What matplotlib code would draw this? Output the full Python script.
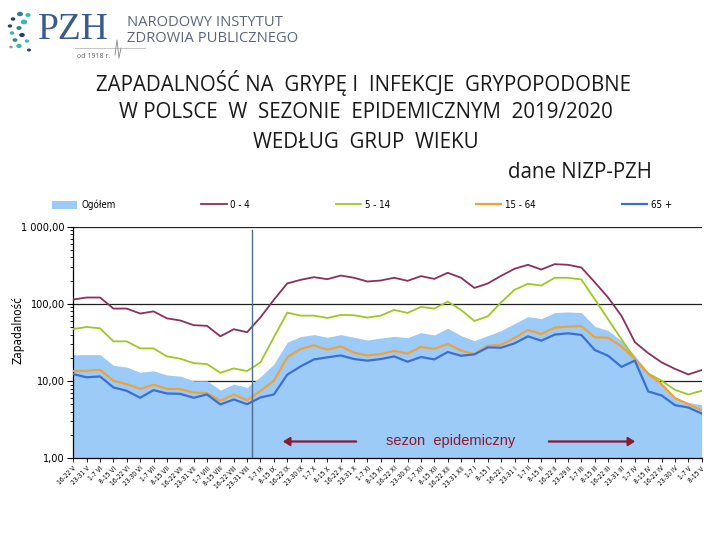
import matplotlib
matplotlib.use("Agg")
import matplotlib.pyplot as plt
import numpy as np
from matplotlib.patches import Circle, FancyArrowPatch
from matplotlib.lines import Line2D
from matplotlib.ticker import NullFormatter, LogLocator
from matplotlib.font_manager import FontProperties

weeks = ["16-22 V","23-31 V","1-7 VI","8-15 VI","16-22 VI","23-30 VI","1-7 VII","8-15 VII",
         "16-22 VII","23-31 VII","1-7 VIII","8-15 VIII","16-22 VIII","23-31 VIII","1-7 IX","8-15 IX",
         "16-22 IX","23-30 IX","1-7 X","8-15 X","16-22 X","23-31 X","1-7 XI","8-15 XI",
         "16-22 XI","23-30 XI","1-7 XII","8-15 XII","16-22 XII","23-31 XII","1-7 I","8-15 I",
         "16-22 I","23-31 I","1-7 II","8-15 II","16-22 II","23-29 II","1-7 III","8-15 III",
         "16-22 III","23-31 III","1-7 IV","8-15 IV","16-22 IV","23-30 IV","1-7 V","8-15 V"]

ogolem = [22.0,22.0,22.0,16.0,15.2,13.0,13.6,12.0,11.6,10.1,10.1,7.64,
          9.14,8.28,11.4,16.6,31.8,37.7,40.0,36.9,40.0,36.9,34.0,36.1,
          38.0,36.5,42.5,39.6,48.3,38.8,33.4,38.8,45.1,55.6,68.4,64.5,
          77.1,78.7,77.1,51.3,45.1,33.4,21.3,13.0,9.14,6.14,5.28,4.93]

age_0_4 = [114,121,121,87,87,75,80,65,61,53,52,38,
           47,43,67,113,184,205,222,209,233,218,195,201,
           218,199,229,211,253,218,161,184,231,285,321,279,
           327,321,296,191,121,70,32,23,17.5,14.4,12.2,13.9]

age_5_14 = [47.3,50.2,48.3,32.7,32.7,26.5,26.5,20.9,19.5,17.1,16.6,12.8,
            14.6,13.5,17.5,36.9,77.1,70.5,70.5,65.8,71.9,71.3,66.5,70.5,
            83.6,76.4,91.4,87.0,107,83.6,60.1,69.1,105,152,182,173,
            218,218,207,115,63.2,34.8,19.5,12.6,10.1,7.7,6.7,7.5]

age_15_64 = [13.5,13.6,14.0,10.1,9.14,7.94,8.96,7.94,7.87,7.12,6.98,5.56,
             6.71,5.67,7.48,10.1,20.3,26.1,29.1,25.5,28.2,23.3,21.5,22.4,
             24.6,22.7,27.7,26.1,30.3,24.8,22.4,28.7,29.6,36.2,45.9,40.7,
             49.3,50.8,51.3,36.9,36.5,28.2,19.3,12.3,9.14,6.01,5.02,4.20]

age_65 = [12.3,11.2,11.5,8.28,7.48,6.08,7.64,6.92,6.84,6.08,6.71,4.98,
          5.78,5.02,6.14,6.71,12.1,15.5,19.1,20.3,21.5,19.3,18.4,19.3,
          20.9,17.8,20.5,19.1,23.8,21.3,22.2,27.3,27.1,30.8,38.0,33.4,
          40.0,41.6,39.6,25.3,21.3,15.3,18.4,7.34,6.52,4.88,4.55,3.80]

y_ticks = [1, 10, 100, 1000]
y_ticklabels = ["1,00", "10,00", "100,00", "1 000,00"]

def narrow(size):
    return FontProperties(family=["DejaVu Sans"], stretch="condensed", size=size)

TITLE_FONT = ["Open Sans", "DejaVu Sans"]

fig = plt.figure(figsize=(7.2, 5.4), dpi=100)
W, H = 720.0, 540.0

def fx(px):
    return px / W

def fy(py):
    return 1 - py / H

ax = fig.add_axes([fx(73.3), fy(458.3), fx(701.7) - fx(73.3), fy(226.7) - fy(458.3)])
x = np.arange(len(weeks))

ax.fill_between(x, 1, ogolem, color="#9ccbf7", lw=0, zorder=1, label="Ogółem")
ax.plot(x, age_0_4, color="#8b2f5c", lw=1.3, zorder=3, label="0 - 4")
ax.plot(x, age_5_14, color="#9fc724", lw=1.3, zorder=3, label="5 - 14")
ax.plot(x, age_15_64, color="#eea23a", lw=1.6, zorder=3, label="15 - 64")
ax.plot(x, age_65, color="#3a6fd8", lw=1.6, zorder=3, label="65 +")

ax.set_yscale("log")
ax.set_ylim(1, 1000)
ax.set_xlim(0, len(weeks) - 1)
ax.set_yticks(y_ticks)
ax.set_yticklabels(y_ticklabels, fontproperties=narrow(7.8))
ax.yaxis.set_minor_locator(LogLocator(base=10, subs=np.arange(2, 10)))
ax.yaxis.set_minor_formatter(NullFormatter())
ax.tick_params(axis="y", which="major", length=4, width=0.8, direction="out", pad=2)
ax.tick_params(axis="y", which="minor", length=2, width=0.6, direction="out")
ax.set_xticks(x)
ax.set_xticklabels(weeks, rotation=45, ha="right", rotation_mode="anchor",
                   fontproperties=narrow(4.8))
ax.tick_params(axis="x", length=3, width=0.6, direction="out", pad=2)

ax.set_axisbelow(True)
ax.grid(axis="y", which="major", color="#202020", lw=0.9)
ax.grid(axis="x", visible=False)
for s in ["top", "right"]:
    ax.spines[s].set_visible(False)
ax.spines["left"].set_linewidth(0.9)
ax.spines["bottom"].set_linewidth(0.9)

fig.text(fx(18), fy(330), "Zapadalność", rotation=90, ha="center", va="center",
         fontproperties=narrow(8.5))

# vertical marker line (start of epidemic season)
ax.axvline(13.4, ymin=0, ymax=0.986, color="#4f6d8c", lw=1.0, zorder=4)

# legend
fig.legend(loc="lower left", bbox_to_anchor=(fx(48), fy(214), fx(676) - fx(48), 0.02),
           mode="expand", ncol=5, frameon=False, prop=narrow(7),
           handlelength=2.6, handleheight=0.9, handletextpad=0.4, borderaxespad=0)

# season annotation
red = "#8b1a2e"
fig.text(fx(386), fy(441.5), "sezon  epidemiczny", color=red, fontsize=10.5,
         family=["Liberation Sans", "DejaVu Sans"], ha="left", va="center")
fig.add_artist(FancyArrowPatch((fx(359), fy(441.5)), (fx(280), fy(441.5)),
               transform=fig.transFigure, arrowstyle="-|>,head_length=4,head_width=2.5",
               color=red, lw=1.6))
fig.add_artist(FancyArrowPatch((fx(546), fy(441.5)), (fx(638), fy(441.5)),
               transform=fig.transFigure, arrowstyle="-|>,head_length=4,head_width=2.5",
               color=red, lw=1.6))

# titles
tc = "#1a1a1a"
fig.text(fx(364), fy(83), "ZAPADALNOŚĆ NA  GRYPĘ I  INFEKCJE  GRYPOPODOBNE", ha="center", va="center",
         fontsize=14.8, family=TITLE_FONT, color=tc)
fig.text(fx(366), fy(113), "W POLSCE  W  SEZONIE  EPIDEMICZNYM  2019/2020", ha="center", va="center",
         fontsize=14.8, family=TITLE_FONT, color=tc)
fig.text(fx(366), fy(142), "WEDŁUG  GRUP  WIEKU", ha="center", va="center",
         fontsize=14.8, family=TITLE_FONT, color=tc)
fig.text(fx(652), fy(172), "dane NIZP-PZH", ha="right", va="center",
         fontsize=14.8, family=TITLE_FONT, color=tc)

# logo
logo_blue = "#3c5a8e"
fig.text(fx(38), fy(39), "PZH", fontsize=27, family=["Liberation Serif", "DejaVu Serif"],
         color=logo_blue, ha="left", va="baseline")
fig.text(fx(127), fy(26), "NARODOWY INSTYTUT", fontsize=10.6, family=["Open Sans", "DejaVu Sans"],
         color="#5a6580", ha="left", va="baseline")
fig.text(fx(127), fy(42), "ZDROWIA PUBLICZNEGO", fontsize=10.6, family=["Open Sans", "DejaVu Sans"],
         color="#5a6580", ha="left", va="baseline")
fig.text(fx(77), fy(58), "od 1918 r.", fontsize=5, family=["Open Sans", "DejaVu Sans"],
         color="#666666", ha="left", va="baseline")
fig.add_artist(Line2D([fx(75), fx(145)], [fy(48), fy(48)], color="#bbbbbb", lw=0.6))
fig.add_artist(Line2D([fx(115), fx(117), fx(119), fx(121)], [fy(55), fy(40), fy(58), fy(48)],
                      color="#888888", lw=0.6))
dots = [(20, 14, 3.0, "#2e7fa0"), (28, 15, 2.6, "#3fb6b4"), (13, 19, 2.3, "#2b3d6b"),
        (24, 22, 3.2, "#3fb6b4"), (10, 26, 2.2, "#2b3d6b"), (19, 28, 2.6, "#2e7fa0"),
        (12, 33, 2.3, "#3fb6b4"), (22, 35, 2.8, "#2b3d6b"), (15, 40, 2.4, "#2e7fa0"),
        (27, 41, 2.2, "#3fb6b4"), (19, 46, 2.8, "#3fb6b4"), (29, 50, 2.0, "#2b3d6b"),
        (11, 47, 1.8, "#8a9ab0")]
for dx, dy, r, c in dots:
    fig.add_artist(Circle((fx(dx), fy(dy)), r / W, transform=fig.transFigure, color=c, lw=0))

fig.savefig("out.png", dpi=100)
